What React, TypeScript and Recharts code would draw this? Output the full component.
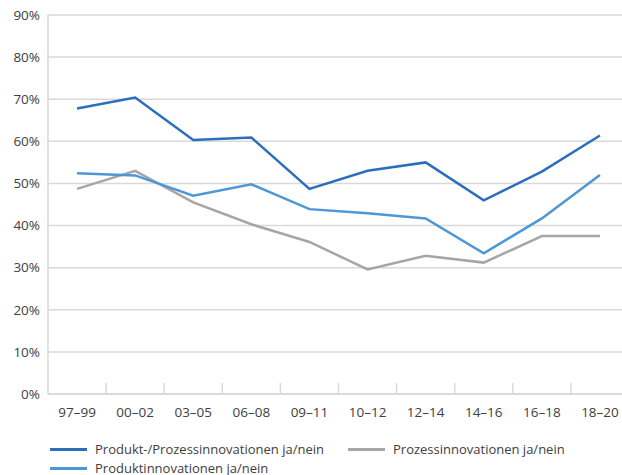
import React from "react"
import {
  LineChart,
  Line,
  XAxis,
  YAxis,
  CartesianGrid,
} from "recharts"

// Periods (x-axis categories)
const PERIODS = [
  "97–99",
  "00–02",
  "03–05",
  "06–08",
  "09–11",
  "10–12",
  "12–14",
  "14–16",
  "16–18",
  "18–20",
]

// Shares in percent
const PRODUKT_PROZESS = [67.8, 70.4, 60.3, 60.9, 48.7, 53.0, 55.0, 46.0, 52.8, 61.4]
const PRODUKT = [52.4, 51.9, 47.1, 49.8, 43.9, 42.9, 41.7, 33.4, 41.7, 52.0]
const PROZESS = [48.7, 53.0, 45.5, 40.3, 36.1, 29.6, 32.8, 31.2, 37.5, 37.5]

const Y_TICKS = [0, 10, 20, 30, 40, 50, 60, 70, 80, 90]

const SERIES = [
  { key: "pp", name: "Produkt-/Prozessinnovationen ja/nein", color: "#2b6fba", values: PRODUKT_PROZESS },
  { key: "pr", name: "Prozessinnovationen ja/nein", color: "#a6a6a6", values: PROZESS },
  { key: "pd", name: "Produktinnovationen ja/nein", color: "#4d97d6", values: PRODUKT },
]

const chartData = PERIODS.map((period, i) => ({
  period,
  pp: PRODUKT_PROZESS[i],
  pd: PRODUKT[i],
  pr: PROZESS[i],
}))

const FONT = "'Open Sans', sans-serif"
const TEXT = "#404040"
const GRID = "#d9d9d9"

// x tick: label in the band centre, tick mark on the band boundary (inside the plot)
function PeriodTick(props: any) {
  const { x, y, payload, width, visibleTicksCount, index } = props
  const band = width / visibleTicksCount
  const axisY = y - 13
  const bx = x + band / 2
  return (
    <g>
      {index < visibleTicksCount - 1 && (
        <line x1={bx} x2={bx} y1={axisY} y2={axisY - 11} stroke={GRID} strokeWidth={1.5} />
      )}
      <text x={x} y={y} dy="0.71em" textAnchor="middle" fill={TEXT} fontSize={13.5} fontFamily={FONT}>
        {payload.value}
      </text>
    </g>
  )
}

export default function App() {
  return (
    <div
      style={{
        position: "absolute",
        left: 0,
        top: 0,
        width: 622,
        height: 475,
        overflow: "hidden",
        background: "#fff",
        fontFamily: FONT,
      }}
    >
      <LineChart
        width={640}
        height={475}
        data={chartData}
        margin={{ top: 15, right: 11, left: 0, bottom: 51 }}
      >
        <CartesianGrid vertical={false} stroke={GRID} strokeWidth={1.5} />
        <XAxis
          dataKey="period"
          scale="band"
          interval={0}
          height={30}
          axisLine={{ stroke: GRID, strokeWidth: 1.5 }}
          tickLine={false}
          tickSize={0}
          tickMargin={13}
          tick={<PeriodTick />}
        />
        <YAxis
          domain={[0, 90]}
          ticks={Y_TICKS}
          width={48}
          axisLine={{ stroke: GRID, strokeWidth: 1.5 }}
          tickLine={false}
          tickSize={0}
          tickMargin={8}
          tickFormatter={(v) => `${v}%`}
          tick={{ fill: TEXT, fontSize: 13.5, fontFamily: FONT }}
        />
        {SERIES.map((s) => (
          <Line
            key={s.key}
            dataKey={s.key}
            name={s.name}
            stroke={s.color}
            strokeWidth={2.5}
            dot={false}
            isAnimationActive={false}
          />
        ))}
      </LineChart>

      {/* Legend */}
      <div style={{ position: "absolute", left: 50, top: 440, fontSize: 13, color: TEXT, lineHeight: "19px" }}>
        {[
          { s: SERIES[0], left: 0, top: 0 },
          { s: SERIES[1], left: 298, top: 0 },
          { s: SERIES[2], left: 0, top: 19 },
        ].map(({ s, left, top }) => (
          <div key={s.key} style={{ position: "absolute", left, top, whiteSpace: "nowrap", display: "flex", alignItems: "center" }}>
            <span style={{ display: "inline-block", width: 37, height: 3, background: s.color, marginRight: 8 }} />
            <span>{s.name}</span>
          </div>
        ))}
      </div>
    </div>
  )
}
